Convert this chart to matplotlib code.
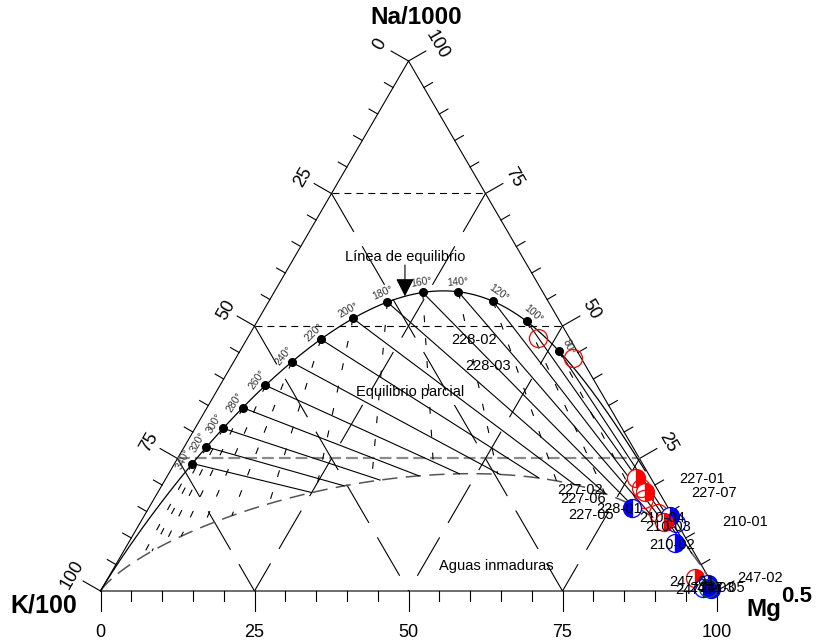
import numpy as np
import matplotlib.pyplot as plt

plt.rcParams['font.family'] = ['Liberation Sans', 'DejaVu Sans']
plt.rcParams['lines.scale_dashes'] = False

# temperaturas marcadas sobre la linea de equilibrio total (C)
temps_marked = [80, 100, 120, 140, 160, 180, 200, 220, 240, 260, 280, 300, 320, 340]
temp_label_rot = [-65, -40, -35, 5, 10, 25, 30, 45, 52, 55, 58, 60, 62, 65]

# muestras: % de Na/1000, K/100 y Mg^0.5
sample_ids = ['228-02', '228-03', '227-01', '227-07', '227-02', '227-06', '227-05',
              '228-01', '210-04', '210-03', '210-01', '210-02',
              '247-01', '247-02', '247-03', '247-04', '247-05']
na_pct = [47.7, 44.0, 21.3, 18.7, 19.4, 17.4, 14.7, 15.7, 14.2, 13.0, 12.8, 9.1,
          2.5, 1.3, 0.4, 0.6, 0.6]
k_pct = [5.1, 1.3, 2.4, 2.3, 2.6, 3.1, 2.2, 5.9, 0.5, 2.0, 0.2, 2.2,
         2.2, 0.7, 0.7, 1.9, 1.1]
mg_pct = [47.2, 54.7, 76.3, 79.0, 78.0, 79.5, 83.1, 78.4, 85.3, 85.0, 87.0, 88.7,
          95.3, 98.0, 98.9, 97.5, 98.3]
sample_kind = ['red_open', 'red_open', 'red_half', 'red_half', 'red_open', 'red_open', 'red_open',
               'blue_left', 'blue_half', 'red_half', 'blue_open', 'blue_half',
               'red_half', 'blue_half', 'blue_full', 'blue_half', 'green_open']
# desplazamiento de las etiquetas (pixeles)
label_dx = [-64, -85, 66, 69, -61, -61, -67, -13, -8, 4, 69, -3, -3, 52, 1, -5, 14]
label_dy = [-2, -8, -1, -1, -2, 0, -2, -1, -2, -5, 1, -2, -4, 6, 1, -2, 0]

SQ3 = np.sqrt(3) / 2
MI_IMMATURE = 2.0


def tern(na, k, mg):
    na, k, mg = np.broadcast_arrays(np.asarray(na, float), np.asarray(k, float),
                                    np.asarray(mg, float))
    s = na + k + mg
    return (mg + na / 2) / s, na / s * SQ3


def log_nak(t):
    # geotermometro Na-K (Giggenbach 1988)
    return 1390.0 / (np.asarray(t, float) + 273.0) - 1.75


def log_kmg(t):
    # geotermometro K-Mg (Giggenbach 1988)
    return 14.0 - 4410.0 / (np.asarray(t, float) + 273.0)


def gigg_xy(lnk, lq):
    # con K = 1 mg/kg: Na/1000, K/100, sqrt(Mg)
    lnk, lq = np.broadcast_arrays(np.asarray(lnk, float), np.asarray(lq, float))
    return tern(10 ** lnk / 1000.0, 0.01, 10 ** (-lq / 2))


fig = plt.figure(figsize=(8.19, 6.43), dpi=100)
ax = fig.add_axes([0, 0, 1, 1])
ax.set_xlim(-100.5 / 616, 718.5 / 616)
ax.set_ylim(-52 / 612, 591 / 612)
ax.axis('off')

# triangulo
ax.plot([0, 1, 0.5, 0], [0, 0, SQ3, 0], color='k', lw=0.8, solid_joinstyle='miter')

# ticks de los tres lados
n_left = np.array([-SQ3, 0.5])
n_right = np.array([SQ3, 0.5])
n_bot = np.array([0.0, -1.0])
apex = np.array([0.5, SQ3])
kv = np.array([0.0, 0.0])
mgv = np.array([1.0, 0.0])
for v in range(0, 101, 5):
    ln = 0.0325 if v % 25 == 0 else 0.0162
    p = kv + (mgv - kv) * v / 100
    ax.plot([p[0], p[0] + n_bot[0] * ln], [p[1], p[1] + n_bot[1] * ln], color='k', lw=0.8)
    p = kv + (apex - kv) * (100 - v) / 100
    ax.plot([p[0], p[0] + n_left[0] * ln], [p[1], p[1] + n_left[1] * ln], color='k', lw=0.8)
    p = mgv + (apex - mgv) * v / 100
    ax.plot([p[0], p[0] + n_right[0] * ln], [p[1], p[1] + n_right[1] * ln], color='k', lw=0.8)
    if v % 25 == 0:
        p = kv + (mgv - kv) * v / 100
        ax.text(p[0], -0.067, str(v), ha='center', va='center', fontsize=13)
        p = kv + (apex - kv) * (100 - v) / 100 + n_left * 0.053
        ax.text(p[0], p[1], str(v), ha='center', va='center', fontsize=13, rotation=60)
        if v > 0:
            p = mgv + (apex - mgv) * v / 100 + n_right * 0.053
            ax.text(p[0], p[1], str(v), ha='center', va='center', fontsize=13, rotation=-60)

# rejilla al 25 %
for v in [25, 50, 75]:
    f = v / 100
    x, y = tern([1 - f, 0], [f, f], [0, 1 - f])
    ax.plot(x, y, color='k', lw=0.8, dashes=(32, 12))
    x, y = tern([1 - f, 0], [0, 1 - f], [f, f])
    ax.plot(x, y, color='k', lw=0.8, dashes=(32, 12))
    x, y = tern([f, f], [1 - f, 0], [0, 1 - f])
    if v == 25:
        ax.plot(x, y, color='#8a8a8a', lw=1.6, dashes=(8.5, 3.6))
    else:
        ax.plot(x, y, color='k', lw=0.8, dashes=(5, 3.6))

# linea de aguas inmaduras (MI = 2.0)
lq = np.linspace(12, -4, 600)
x, y = gigg_xy(MI_IMMATURE - 0.315 * lq, lq)
ax.plot(x, y, color='#555555', lw=1.1, dashes=(11, 6))

# isotermas Na-K (solidas) y K-Mg (discontinuas)
for t in temps_marked:
    lnk, lq = log_nak(t), log_kmg(t)
    x, y = gigg_xy([lnk, lnk], [lq, (MI_IMMATURE - lnk) / 0.315])
    ax.plot(x, y, color='k', lw=0.8)
    x, y = gigg_xy([lnk, MI_IMMATURE - 0.315 * lq], [lq, lq])
    ax.plot(x, y, color='k', lw=0.8, dashes=(5, 11.5))

# linea de equilibrio total
t_line = np.concatenate([np.linspace(20, 400, 400), np.linspace(400, 20000, 600)])
x, y = gigg_xy(log_nak(t_line), log_kmg(t_line))
ax.plot(x, y, color='k', lw=0.9)

xd, yd = gigg_xy(log_nak(temps_marked), log_kmg(temps_marked))
ax.plot(xd, yd, 'o', color='k', ms=5.5, zorder=4)
for t, xi, yi, rot in zip(temps_marked, xd, yd, temp_label_rot):
    th = np.radians(rot)
    ax.annotate(f'{t}°', (xi, yi), xytext=(-np.sin(th) * 10, np.cos(th) * 10),
                textcoords='offset pixels', ha='center', va='center',
                fontsize=7.5, rotation=rot, color='#333333')

# textos de las zonas
xa, ya = gigg_xy(log_nak(170), log_kmg(170))
ax.annotate('', xy=(xa, ya), xytext=(xa, 0.5327),
            arrowprops=dict(arrowstyle='-|>,head_length=0.55,head_width=0.28',
                            color='k', lw=0.8, mutation_scale=20, shrinkA=0, shrinkB=0))
ax.text(xa, 0.5458, 'Línea de equilibrio', ha='center', va='center', fontsize=10.5)
ax.text(0.5024, 0.3252, 'Equilibrio parcial', ha='center', va='center', fontsize=10.5)
ax.text(0.6420, 0.0408, 'Aguas inmaduras', ha='center', va='center', fontsize=10.5)

# vertices
ax.text(0.5122, 0.9363, 'Na/1000', ha='center', va='center', fontsize=17.5, fontweight='bold')
ax.text(-0.0917, -0.0245, 'K/100', ha='center', va='center', fontsize=18, fontweight='bold')
ax.text(1.0771, -0.031, 'Mg', ha='center', va='center', fontsize=17.5, fontweight='bold')
ax.text(1.1307, -0.0082, '0.5', ha='center', va='center', fontsize=16, fontweight='bold')

# muestras
styles = {
    'red_open': dict(mfc='none', mec='red'),
    'red_half': dict(mfc='red', markerfacecoloralt='white', fillstyle='right', mec='red'),
    'blue_half': dict(mfc='blue', markerfacecoloralt='white', fillstyle='right', mec='blue'),
    'blue_left': dict(mfc='blue', markerfacecoloralt='white', fillstyle='left', mec='blue'),
    'blue_open': dict(mfc='none', mec='blue'),
    'blue_full': dict(mfc='blue', mec='blue'),
    'green_open': dict(mfc='none', mec='#0b5a2a'),
}
xs, ys = tern(na_pct, k_pct, mg_pct)
for sid, xi, yi, kind, dx, dy in zip(sample_ids, xs, ys, sample_kind, label_dx, label_dy):
    ax.plot(xi, yi, 'o', ms=13, mew=0.9, zorder=5, **styles[kind])
    ax.annotate(sid, (xi, yi), xytext=(dx, dy), textcoords='offset pixels',
                ha='center', va='center', fontsize=10.5, zorder=6)

fig.savefig('out.png', dpi=100)
